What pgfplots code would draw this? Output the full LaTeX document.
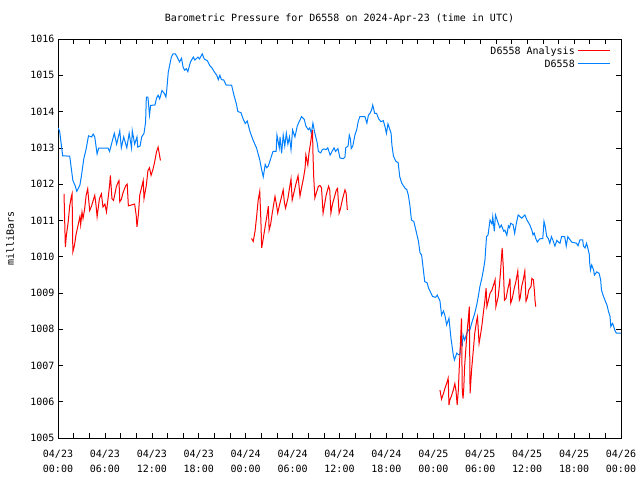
\documentclass[border=0pt]{standalone}
\usepackage{fontspec}
\setmainfont{DejaVu Sans Mono}
\usepackage{pgfplots}
\pgfplotsset{compat=1.18}
\definecolor{gpblue}{RGB}{0,128,255}
\definecolor{gpred}{RGB}{255,0,0}
\newcommand\gfont{\fontsize{10bp}{15bp}\selectfont}
\begin{document}
\begin{tikzpicture}
\useasboundingbox (0,0) rectangle (640bp,480bp);
\begin{axis}[
  at={(58bp,42bp)}, anchor=south west,
  scale only axis, width=563bp, height=399bp,
  xmin=0, xmax=72, ymin=1005, ymax=1016,
  axis line style={line width=0.8bp},
  every tick/.style={black, line width=0.6bp},
  tick align=inside,
  major tick length=5bp, minor tick length=5bp,
  xtick={0,6,...,72}, minor x tick num=2,
  ytick={1005,1006,...,1016},
  xticklabels={{04/23\\00:00},{04/23\\06:00},{04/23\\12:00},{04/23\\18:00},{04/24\\00:00},{04/24\\06:00},{04/24\\12:00},{04/24\\18:00},{04/25\\00:00},{04/25\\06:00},{04/25\\12:00},{04/25\\18:00},{04/26\\00:00}},
  xticklabel style={align=center, font=\gfont, yshift=-8.5bp},
  yticklabel style={font=\gfont},
  /pgf/number format/.cd, 1000 sep={}, assume math mode=true, /pgfplots/.cd,
  ylabel={milliBars},
  every axis y label/.style={at={(axis description cs:-0.085,0.5)}, rotate=90, anchor=center, font=\gfont},
  title={Barometric Pressure for D6558 on 2024-Apr-23 (time in UTC)},
  every axis title/.style={at={(axis description cs:0.5,1.05)}, anchor=center, font=\gfont},
  legend style={draw=none, fill=none, font=\gfont, at={(rel axis cs:0.9218,0.985)}, anchor=north east, row sep=-0.5bp, inner sep=0pt},
  legend cell align=right,
  legend plot pos=none,
]
\addplot[gpred, line width=1bp] coordinates {
(0.77,1011.73) (0.94,1010.26) (1.07,1010.58) (1.3,1010.95) (1.5,1011.4) (1.7,1011.65) (1.8,1011.73)
(1.9,1010.13) (2.1,1010.3) (2.3,1010.6) (2.55,1010.85) (2.8,1011.1) (2.9,1010.88) (3.07,1011.23)
(3.2,1011.05) (3.4,1011.3) (3.6,1011.69) (3.8,1011.87) (4.05,1011.27) (4.3,1011.4) (4.5,1011.55)
(4.7,1011.69) (4.85,1011.45) (5.0,1011.1) (5.3,1011.6) (5.55,1011.73) (5.75,1011.37) (6.0,1011.45)
(6.2,1011.23) (6.4,1011.6) (6.6,1011.97) (6.7,1012.24) (6.9,1011.6) (7.1,1011.55) (7.3,1011.75)
(7.45,1011.92) (7.7,1012.06) (7.8,1012.1) (7.9,1011.51) (8.1,1011.58) (8.3,1011.75) (8.5,1011.87)
(8.7,1011.97) (8.85,1012.0) (9.0,1011.4) (9.8,1011.45) (10.0,1011.14) (10.1,1010.82) (10.3,1011.2)
(10.45,1011.69) (10.65,1011.87) (10.9,1012.1) (11.0,1011.6) (11.3,1011.97) (11.5,1012.37)
(11.7,1012.45) (11.9,1012.24) (12.15,1012.41) (12.35,1012.6) (12.6,1012.89) (12.8,1013.02)
(12.9,1012.9) (13.1,1012.65)
};
\addlegendentry{D6558 Analysis}
\addplot[gpblue, line width=1bp] coordinates {
(0,1013.55) (0.2,1013.47) (0.6,1012.78) (1.5,1012.77) (1.9,1012.1) (2.2,1011.95) (2.4,1011.8)
(2.8,1011.97) (3.0,1012.23) (3.3,1012.7) (3.6,1012.97) (3.9,1013.33) (4.3,1013.3) (4.5,1013.38)
(4.7,1013.3) (5.0,1012.83) (5.2,1012.99) (6.4,1012.99) (6.6,1012.9) (6.8,1013.07) (7.2,1013.4)
(7.5,1013.1) (7.9,1013.47) (8.1,1013.0) (8.4,1013.3) (8.8,1013.0) (9.1,1013.4) (9.4,1013.0)
(9.5,1013.47) (9.8,1013.1) (10.1,1013.3) (10.2,1013.02) (10.5,1013.05) (10.7,1013.3) (11.0,1013.4)
(11.2,1013.7) (11.3,1014.4) (11.5,1014.4) (11.7,1013.9) (11.85,1014.17) (12.4,1014.18)
(12.6,1014.37) (12.8,1014.45) (13.0,1014.35) (13.3,1014.58) (13.6,1014.5) (13.8,1014.4)
(13.9,1014.58) (14.1,1015.08) (14.3,1015.3) (14.5,1015.5) (14.7,1015.59) (15.0,1015.59)
(15.25,1015.5) (15.55,1015.37) (15.8,1015.47) (16.0,1015.22) (16.2,1015.14) (16.4,1015.18)
(16.6,1015.1) (16.95,1015.37) (17.3,1015.5) (17.5,1015.42) (17.9,1015.5) (18.1,1015.45)
(18.45,1015.59) (18.7,1015.45) (19.1,1015.4) (19.4,1015.27) (19.7,1015.2) (20.0,1015.09)
(20.3,1015.0) (20.5,1014.88) (20.7,1015.0) (20.9,1014.88) (21.2,1014.87) (21.5,1014.73)
(22.2,1014.73) (22.5,1014.45) (22.8,1014.22) (23.0,1014.0) (23.4,1013.97) (23.65,1013.81)
(23.95,1013.67) (24.2,1013.74) (24.55,1013.45) (24.97,1013.2) (25.4,1012.99) (25.8,1012.67)
(26.05,1012.39) (26.25,1012.2) (26.5,1012.54) (26.7,1012.45) (26.9,1012.5) (27.3,1012.77)
(27.5,1012.9) (27.9,1012.9) (28.0,1013.35) (28.3,1013.0) (28.4,1013.3) (28.6,1012.85)
(28.8,1013.35) (29.0,1013.05) (29.2,1013.4) (29.4,1013.1) (29.6,1013.3) (29.8,1012.95)
(30.0,1013.49) (30.3,1013.3) (30.6,1013.6) (30.8,1013.7) (31.15,1013.86) (31.5,1013.78)
(31.7,1013.6) (32.0,1013.5) (32.2,1013.55) (32.4,1013.4) (32.6,1013.68) (32.8,1013.45)
(33.15,1013.13) (33.3,1012.9) (33.6,1012.86) (33.8,1012.95) (34.0,1012.97) (34.3,1012.95)
(34.5,1013.0) (34.8,1012.8) (35.0,1012.88) (35.3,1013.0) (35.5,1012.9) (35.8,1012.98)
(36.06,1012.72) (36.5,1012.7) (36.7,1012.75) (36.8,1013.0) (37.1,1013.05) (37.25,1013.35)
(37.4,1013.25) (37.5,1012.98) (37.7,1013.05) (37.97,1013.35) (38.2,1013.5) (38.4,1013.73)
(38.6,1013.86) (39.25,1013.86) (39.5,1013.68) (39.7,1013.9) (39.9,1013.95) (40.1,1014.04)
(40.25,1014.18) (40.5,1013.95) (40.75,1013.95) (41.0,1013.8) (41.3,1013.72) (41.6,1013.75)
(41.8,1013.6) (42.0,1013.4) (42.2,1013.66) (42.6,1013.4) (42.7,1013.08) (42.9,1012.77)
(43.2,1012.63) (43.5,1012.59) (43.7,1012.21) (43.95,1012.03) (44.4,1011.88) (44.6,1011.85)
(44.8,1011.7) (45.0,1011.42) (45.2,1011.01) (45.5,1010.97) (45.8,1010.7) (46.1,1010.42)
(46.3,1010.1) (46.5,1010.05) (46.7,1009.68) (46.9,1009.31) (47.2,1009.28) (47.4,1009.13)
(47.6,1009.04) (47.9,1008.9) (48.3,1008.88) (48.5,1008.94) (48.85,1008.78) (49.05,1008.39)
(49.3,1008.5) (49.5,1008.36) (49.7,1008.12) (50.0,1008.3) (50.25,1007.76) (50.55,1007.29)
(50.7,1007.15) (51.0,1007.34) (51.2,1007.3) (51.4,1007.29) (51.5,1007.61) (51.7,1007.55)
(51.8,1007.84) (52.0,1007.7) (52.3,1007.89) (52.5,1007.98) (52.7,1008.0) (52.9,1008.16)
(53.1,1008.3) (53.3,1008.44) (53.55,1008.67) (53.75,1008.9) (53.95,1009.17) (54.2,1009.4)
(54.4,1009.63) (54.6,1009.9) (54.8,1010.55) (55.0,1010.6) (55.25,1011.01) (55.5,1010.9)
(55.6,1011.1) (55.8,1010.7) (55.95,1011.15) (56.3,1010.92) (56.5,1010.8) (56.7,1010.87)
(57.0,1010.7) (57.15,1010.73) (57.4,1010.59) (57.6,1010.85) (57.75,1010.8) (57.9,1010.92)
(58.2,1010.88) (58.4,1010.64) (58.6,1010.9) (58.85,1011.15) (59.3,1011.06) (59.7,1011.15)
(60.0,1011.0) (60.35,1010.87) (60.6,1010.73) (60.75,1010.6) (60.9,1010.65) (61.1,1010.5)
(61.3,1010.4) (61.6,1010.49) (62.0,1010.5) (62.15,1010.97) (62.3,1010.84) (62.5,1010.56)
(62.7,1010.5) (62.9,1010.37) (63.1,1010.55) (63.3,1010.45) (63.55,1010.29) (63.8,1010.45)
(64.0,1010.4) (64.2,1010.37) (64.4,1010.55) (64.8,1010.55) (65.0,1010.29) (65.2,1010.55)
(65.5,1010.46) (65.7,1010.4) (66.3,1010.37) (66.5,1010.3) (66.75,1010.46) (67.1,1010.46)
(67.2,1010.29) (67.4,1010.24) (67.6,1010.37) (67.8,1010.2) (67.95,1010.05) (68.0,1009.82)
(68.1,1009.63) (68.25,1009.77) (68.5,1009.63) (68.6,1009.49) (68.9,1009.58) (69.2,1009.54)
(69.4,1009.36) (69.5,1009.08) (69.7,1008.94) (70.0,1008.77) (70.2,1008.67) (70.4,1008.49)
(70.6,1008.35) (70.7,1008.07) (70.9,1008.16) (71.0,1008.12) (71.2,1007.98) (71.4,1007.89)
(72.0,1007.89)
};
\addlegendentry{D6558}
\addplot[gpred, line width=1bp, forget plot] coordinates {
(24.75,1010.5) (24.97,1010.42) (25.2,1010.7) (25.4,1011.1) (25.6,1011.56) (25.8,1011.8)
(25.95,1010.97) (26.05,1010.24) (26.25,1010.5) (26.5,1010.84) (26.7,1011.1) (26.9,1011.39)
(27.0,1010.73) (27.2,1010.9) (27.4,1011.2) (27.75,1011.66) (27.95,1011.42) (28.1,1011.2)
(28.3,1011.4) (28.6,1011.66) (28.8,1011.84) (28.95,1011.5) (29.1,1011.34) (29.4,1011.6)
(29.6,1011.88) (29.8,1012.14) (29.95,1011.56) (30.1,1011.7) (30.4,1011.98) (30.7,1012.23)
(30.95,1011.67) (31.1,1011.85) (31.4,1012.17) (31.6,1012.44) (31.7,1012.8) (31.95,1012.53)
(32.1,1012.86) (32.3,1013.13) (32.4,1013.3) (32.55,1013.49) (32.6,1012.9) (32.7,1012.21)
(32.85,1011.62) (33.1,1011.8) (33.3,1011.94) (33.5,1011.96) (33.7,1011.9) (33.9,1011.2)
(34.1,1011.45) (34.3,1011.7) (34.6,1011.94) (34.75,1011.85) (34.9,1011.2) (35.1,1011.45)
(35.3,1011.6) (35.6,1011.84) (35.75,1011.88) (35.95,1011.2) (36.1,1011.3) (36.4,1011.6)
(36.7,1011.84) (36.85,1011.75) (37.0,1011.29)
};
\addplot[gpred, line width=1bp, forget plot] coordinates {
(48.85,1006.32) (49.05,1006.07) (49.3,1006.23) (49.5,1006.38) (49.7,1006.5) (49.9,1006.65)
(50.0,1005.91) (50.1,1006.04) (50.3,1006.15) (50.55,1006.32) (50.75,1006.5) (50.9,1006.3)
(51.05,1005.91) (51.2,1006.32) (51.3,1006.87) (51.45,1007.52) (51.6,1008.3) (51.7,1006.32)
(51.8,1006.09) (51.9,1006.4) (52.0,1006.97) (52.3,1007.89) (52.5,1008.35) (52.6,1008.62)
(52.7,1006.23) (52.9,1006.9) (53.1,1007.39) (53.3,1007.89) (53.55,1008.25) (53.65,1008.34)
(53.85,1007.61) (54.0,1007.8) (54.2,1008.08) (54.4,1008.45) (54.6,1008.8) (54.75,1009.13)
(54.85,1008.62) (55.05,1008.8) (55.25,1008.99) (55.5,1009.08) (55.7,1009.22) (55.9,1009.36)
(56.0,1008.62) (56.3,1008.9) (56.45,1009.2) (56.6,1009.6) (56.8,1010.24) (56.95,1009.7)
(57.1,1008.8) (57.3,1008.85) (57.5,1009.08) (57.7,1009.27) (57.8,1009.4) (57.9,1008.72)
(58.1,1008.85) (58.35,1009.13) (58.55,1009.3) (58.8,1009.6) (59.0,1008.8) (59.1,1008.85)
(59.3,1009.18) (59.5,1009.36) (59.7,1009.6) (59.85,1008.77) (60.0,1008.85) (60.2,1009.08)
(60.5,1009.18) (60.6,1009.4) (60.8,1009.36) (60.95,1009.0) (61.0,1008.8) (61.1,1008.62)
};
\draw[gpred, line width=1bp] (axis description cs:0.9236,0.9724) -- (axis description cs:0.9805,0.9724);
\draw[gpblue, line width=1bp] (axis description cs:0.9236,0.9398) -- (axis description cs:0.9805,0.9398);
\end{axis}
\end{tikzpicture}
\end{document}
